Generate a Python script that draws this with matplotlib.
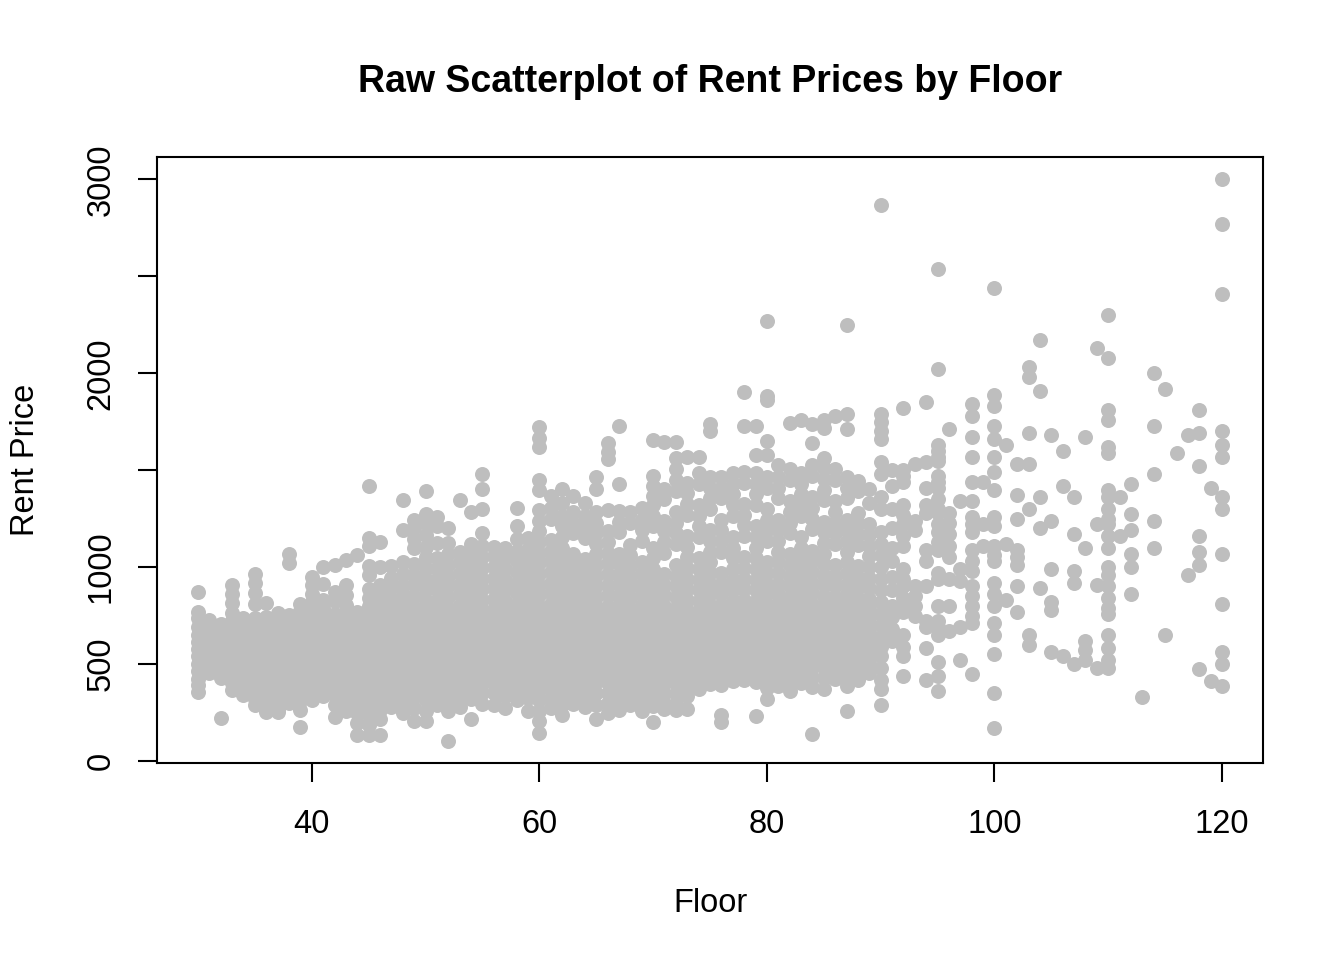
import matplotlib
matplotlib.use("Agg")
import matplotlib.pyplot as plt

plt.rcParams['font.family'] = ['Liberation Sans', 'DejaVu Sans']

title = "Raw Scatterplot of Rent Prices by Floor"
x_label = "Floor"
y_label = "Rent Price"
x_ticks = [40, 60, 80, 100, 120]
y_ticks = [0, 500, 1000, 1500, 2000, 2500, 3000]
y_tick_labels = ["0", "500", "1000", "", "2000", "", "3000"]

# Rent prices, one inner list per integer floor value.
# rent_floor_30s[0] holds the points at floor 30, rent_floor_30s[1] at 31, ...
rent_floor_30s = [
    [870, 770, 735, 690, 650, 615, 575, 540, 500, 465, 425, 390, 355],
    [725, 690, 645, 610, 570, 530, 495, 455],
    [705, 660, 625, 585, 545, 505, 470, 430, 220],
    [905, 860, 815, 765, 720, 680, 640, 595, 555, 515, 480, 440, 400, 365],
    [735, 695, 655, 615, 580, 540, 500, 460, 420, 380, 340],
    [965, 920, 865, 810, 735, 700, 660, 625, 585, 545, 510, 470, 430, 395, 355, 320, 290],
    [815, 745, 705, 665, 630, 590, 550, 515, 475, 435, 400, 360, 320, 285, 250],
    [765, 725, 690, 650, 610, 570, 535, 495, 455, 420, 380, 345, 305, 270, 250],
    [1065, 1020, 755, 715, 675, 640, 600, 560, 520, 485, 445, 405, 370, 330, 300],
    [810, 775, 735, 695, 655, 620, 580, 545, 505, 465, 430, 390, 350, 310, 265, 175],
]
rent_floor_40s = [
    [950, 905, 860, 820, 775, 735, 700, 660, 620, 585, 545, 505, 470, 430, 390, 355, 315],
    [1000, 915, 830, 790, 750, 710, 670, 635, 595, 555, 520, 480, 440, 405, 365, 335],
    [1010, 870, 825, 760, 720, 685, 645, 605, 570, 530, 490, 455, 415, 375, 340, 290, 225],
    [1035, 905, 855, 805, 765, 725, 690, 650, 610, 575, 535, 495, 460, 420, 380, 345, 300, 255],
    [1060, 770, 735, 695, 655, 615, 580, 540, 500, 465, 425, 385, 350, 300, 245, 195, 135],
    [1420, 1150, 1110, 1005, 960, 885, 840, 800, 755, 715, 680, 640, 600, 565, 525, 485, 450, 410, 370, 335, 285, 235, 185, 135],
    [1130, 1000, 905, 865, 820, 780, 740, 705, 665, 625, 590, 550, 510, 475, 435, 395, 360, 315, 265, 215, 135],
    [1005, 945, 890, 835, 790, 750, 710, 675, 635, 595, 560, 520, 480, 445, 405, 365, 325, 280],
    [1345, 1190, 1025, 965, 910, 855, 805, 765, 725, 690, 650, 610, 575, 535, 495, 460, 420, 380, 345, 295, 245],
    [1245, 1200, 1145, 1100, 1015, 960, 905, 850, 795, 755, 715, 680, 640, 600, 565, 525, 485, 450, 410, 370, 330, 275, 205],
]
rent_floor_50s = [
    [1395, 1275, 1225, 1165, 1105, 1050, 995, 940, 885, 830, 785, 745, 705, 670, 630, 590, 555, 515, 475, 440, 400, 360, 315, 260, 205],
    [1260, 1210, 1125, 1045, 990, 935, 880, 825, 775, 735, 695, 660, 620, 580, 545, 505, 465, 430, 390, 345, 290],
    [1200, 1125, 1065, 1010, 955, 900, 845, 790, 745, 705, 665, 630, 590, 550, 515, 475, 435, 400, 360, 310, 260, 105],
    [1345, 1080, 1025, 970, 915, 860, 805, 760, 720, 680, 645, 605, 565, 530, 490, 450, 415, 375, 335, 280],
    [1285, 1120, 1065, 1010, 955, 900, 845, 795, 755, 715, 680, 640, 600, 565, 525, 485, 450, 410, 365, 320, 215],
    [1480, 1405, 1300, 1175, 1110, 1050, 995, 940, 885, 830, 780, 740, 700, 665, 625, 585, 550, 510, 470, 435, 395, 350, 295],
    [1105, 1055, 1000, 945, 890, 835, 785, 745, 705, 670, 630, 590, 555, 515, 475, 440, 400, 350, 290],
    [1100, 1045, 990, 935, 880, 825, 775, 735, 695, 655, 620, 580, 540, 505, 465, 425, 385, 335, 275],
    [1305, 1210, 1145, 1085, 1030, 975, 920, 865, 810, 760, 720, 680, 645, 605, 565, 530, 490, 450, 415, 370, 315],
    [1150, 1095, 1040, 985, 930, 875, 820, 770, 730, 690, 655, 615, 575, 540, 500, 460, 425, 380, 325, 260],
]
rent_floor_60s = [
    [1725, 1665, 1620, 1450, 1400, 1295, 1240, 1185, 1130, 1075, 1020, 965, 910, 855, 800, 755, 715, 675, 640, 600, 560, 525, 485, 445, 410, 365, 315, 260, 205, 145],
    [1365, 1305, 1250, 1140, 1085, 1030, 975, 920, 865, 810, 765, 725, 685, 650, 610, 570, 535, 495, 455, 420, 375, 325, 275],
    [1405, 1330, 1265, 1210, 1155, 1100, 1045, 990, 935, 880, 825, 775, 735, 695, 660, 620, 580, 545, 505, 465, 430, 385, 340, 290, 235],
    [1365, 1285, 1230, 1175, 1065, 1010, 955, 900, 845, 790, 745, 705, 670, 630, 590, 555, 515, 475, 440, 395, 345, 295],
    [1330, 1265, 1205, 1150, 1040, 985, 930, 875, 820, 770, 730, 690, 655, 615, 575, 540, 500, 460, 425, 380, 330, 280],
    [1465, 1405, 1285, 1230, 1175, 1120, 1065, 1010, 955, 900, 845, 795, 755, 715, 680, 640, 600, 565, 525, 485, 450, 405, 350, 290, 215],
    [1640, 1595, 1560, 1295, 1185, 1130, 1075, 1020, 965, 910, 855, 800, 755, 715, 680, 640, 600, 565, 525, 485, 445, 400, 350, 300, 245],
    [1730, 1430, 1290, 1235, 1180, 1070, 1015, 960, 905, 850, 800, 760, 720, 680, 645, 605, 565, 530, 490, 450, 410, 365, 315, 265],
    [1285, 1225, 1115, 1060, 1005, 950, 895, 840, 785, 740, 700, 665, 625, 585, 550, 510, 470, 435, 390, 340, 290],
    [1305, 1245, 1190, 1135, 1025, 970, 915, 860, 805, 760, 720, 680, 645, 605, 565, 530, 490, 450, 410, 365, 310, 255],
]
rent_floor_70s = [
    [1655, 1470, 1420, 1365, 1320, 1265, 1210, 1100, 1045, 990, 935, 880, 825, 775, 735, 695, 660, 620, 580, 545, 505, 465, 430, 385, 335, 285, 200],
    [1645, 1405, 1350, 1240, 1185, 1130, 1075, 965, 910, 855, 800, 755, 715, 675, 640, 600, 560, 525, 485, 445, 400, 350, 300, 270],
    [1645, 1565, 1505, 1450, 1395, 1285, 1230, 1175, 1120, 1010, 955, 900, 845, 790, 745, 705, 670, 630, 590, 555, 515, 475, 440, 395, 345, 295, 265],
    [1570, 1435, 1380, 1325, 1270, 1160, 1105, 1050, 995, 940, 885, 830, 780, 740, 700, 665, 625, 585, 550, 510, 470, 430, 385, 335, 270],
    [1570, 1485, 1430, 1320, 1265, 1210, 1155, 1045, 990, 935, 880, 825, 775, 735, 695, 660, 620, 580, 545, 505, 465, 420, 370],
    [1740, 1700, 1465, 1410, 1355, 1300, 1190, 1135, 1080, 1025, 970, 915, 860, 805, 760, 720, 680, 645, 605, 565, 530, 490, 445, 395],
    [1465, 1410, 1355, 1245, 1190, 1135, 1080, 970, 915, 860, 805, 760, 720, 680, 640, 605, 565, 525, 485, 440, 390, 235, 200],
    [1485, 1430, 1375, 1320, 1265, 1155, 1100, 1045, 990, 935, 880, 825, 780, 740, 700, 660, 625, 585, 545, 505, 460, 410],
    [1905, 1730, 1490, 1435, 1325, 1270, 1215, 1160, 1050, 995, 940, 885, 830, 785, 745, 705, 665, 630, 590, 550, 510, 465, 415],
    [1730, 1580, 1485, 1430, 1375, 1320, 1210, 1155, 1100, 1045, 990, 935, 880, 825, 780, 740, 700, 660, 625, 585, 545, 500, 455, 405, 230],
]
rent_floor_80s = [
    [2270, 1885, 1860, 1650, 1580, 1465, 1410, 1300, 1245, 1190, 1135, 1025, 970, 915, 860, 805, 760, 720, 680, 645, 605, 565, 525, 480, 430, 375, 320],
    [1525, 1465, 1410, 1355, 1245, 1190, 1135, 1080, 1025, 970, 915, 860, 810, 765, 725, 685, 650, 610, 570, 530, 490, 440, 385],
    [1745, 1505, 1450, 1340, 1285, 1230, 1175, 1065, 1010, 955, 900, 845, 795, 750, 710, 675, 635, 595, 555, 515, 470, 420, 360],
    [1760, 1485, 1430, 1375, 1320, 1265, 1155, 1100, 1045, 990, 935, 880, 825, 775, 735, 695, 660, 620, 580, 540, 500, 455, 400],
    [1740, 1640, 1525, 1470, 1360, 1305, 1250, 1195, 1085, 1030, 975, 920, 865, 810, 765, 725, 685, 650, 610, 570, 530, 485, 435, 380, 140],
    [1760, 1720, 1565, 1510, 1455, 1400, 1345, 1235, 1180, 1125, 1070, 1015, 960, 905, 850, 800, 760, 720, 680, 645, 605, 565, 525, 480, 430, 370],
    [1780, 1505, 1450, 1340, 1285, 1230, 1175, 1120, 1010, 955, 900, 845, 795, 755, 715, 675, 640, 600, 560, 520, 475, 425],
    [2250, 1790, 1710, 1465, 1410, 1355, 1245, 1190, 1135, 1080, 1025, 970, 915, 860, 810, 765, 725, 690, 650, 610, 575, 535, 490, 440, 385, 260],
    [1445, 1390, 1280, 1225, 1170, 1115, 1005, 950, 895, 840, 790, 750, 710, 670, 635, 595, 555, 515, 470, 420],
    [1405, 1330, 1220, 1165, 1110, 1055, 1000, 945, 890, 835, 785, 745, 705, 665, 630, 590, 550, 505, 455],
]
rent_floor_90s = [
    [2870, 1790, 1750, 1700, 1660, 1540, 1480, 1360, 1300, 1180, 1120, 1060, 1000, 940, 880, 820, 760, 700, 640, 590, 540, 480, 420, 370, 290],
    [1500, 1420, 1300, 1200, 1100, 1030, 950, 880, 800, 740, 680, 620],
    [1820, 1500, 1470, 1440, 1320, 1270, 1220, 1160, 1110, 990, 940, 900, 840, 800, 770, 650, 590, 540, 440],
    [1530, 1240, 1190, 900, 850, 800, 750],
    [1850, 1540, 1410, 1320, 1280, 1090, 1030, 900, 720, 690, 580, 420],
    [2540, 2020, 1630, 1600, 1570, 1545, 1470, 1440, 1410, 1350, 1300, 1280, 1220, 1180, 1130, 1090, 970, 940, 800, 720, 690, 650, 510, 440, 360],
    [1710, 1280, 1230, 1170, 1110, 1050, 940, 800, 670],
    [1340, 990, 930, 690, 520],
    [1840, 1780, 1670, 1570, 1440, 1340, 1260, 1220, 1180, 1090, 1030, 980, 900, 850, 800, 750, 710, 450],
    [1440, 1220, 1110],
]
rent_floor_100s = [
    [2440, 1890, 1830, 1730, 1660, 1570, 1490, 1400, 1260, 1210, 1110, 1060, 1030, 920, 860, 800, 710, 650, 550, 350, 170],
    [1630, 1120, 830],
    [1530, 1370, 1250, 1090, 1050, 1010, 900, 770],
    [2030, 1980, 1690, 1530, 1300, 650, 600],
    [2170, 1910, 1360, 1200, 890],
    [1680, 1240, 990, 820, 780, 560],
    [1600, 1420, 540],
    [1360, 1170, 980, 920, 500],
    [1670, 1100, 620, 570, 520],
    [2130, 1220, 910, 480],
]
rent_floor_110s = [
    [2300, 2080, 1810, 1760, 1620, 1590, 1400, 1360, 1300, 1250, 1220, 1160, 1100, 1000, 960, 900, 840, 790, 760, 650, 580, 520, 480],
    [1360, 1160],
    [1430, 1275, 1190, 1070, 1000, 860],
    [330],
    [2000, 1730, 1480, 1240, 1100],
    [1920, 650],
    [1590],
    [1680, 960],
    [1810, 1690, 1520, 1160, 1080, 1010, 475],
    [1410, 410],
    [3000, 2770, 2410, 1700, 1630, 1570, 1360, 1300, 1070, 810, 560, 500, 385],
]

bands = [(30, rent_floor_30s), (40, rent_floor_40s), (50, rent_floor_50s),
         (60, rent_floor_60s), (70, rent_floor_70s), (80, rent_floor_80s),
         (90, rent_floor_90s), (100, rent_floor_100s), (110, rent_floor_110s)]

floor = []
rent = []
for start, band in bands:
    for i, column in enumerate(band):
        floor.extend([start + i] * len(column))
        rent.extend(column)

fig = plt.figure(figsize=(13.44, 9.6), dpi=100)
ax = fig.add_axes([157 / 1344, 1 - 763 / 960, 1106 / 1344, 606 / 960])

ax.plot(floor, rent, linestyle='none', marker='o', markersize=10.8,
        markerfacecolor='#BEBEBE', markeredgewidth=0)

# R-style 4% axis expansion
xmin, xmax = min(floor), max(floor)
ymin, ymax = min(rent), max(rent)
dx = (xmax - xmin) * 0.04
dy = (ymax - ymin) * 0.04
ax.set_xlim(xmin - dx, xmax + dx)
ax.set_ylim(ymin - dy, ymax + dy)

ax.set_xticks(x_ticks)
ax.set_xticklabels([str(t) for t in x_ticks])
ax.set_yticks(y_ticks)
ax.set_yticklabels(y_tick_labels, rotation=90, va='center')

for s in ax.spines.values():
    s.set_linewidth(1.5)
    s.set_color('black')

ax.tick_params(axis='both', direction='out', length=14, width=1.5,
               labelsize=23.5, colors='black')
ax.tick_params(axis='x', pad=19)
ax.tick_params(axis='y', pad=15)

fig.text(710 / 1344, 1 - 92 / 960, title, ha='center', va='baseline',
         fontsize=27, fontweight='bold')
fig.text(710 / 1344, 1 - 912 / 960, x_label, ha='center', va='baseline',
         fontsize=23.5)
fig.text(26 / 1344, 1 - 460 / 960, y_label, ha='center',
         va='center', rotation=90, fontsize=23.5)

fig.savefig('out.png', dpi=100, facecolor='white')
